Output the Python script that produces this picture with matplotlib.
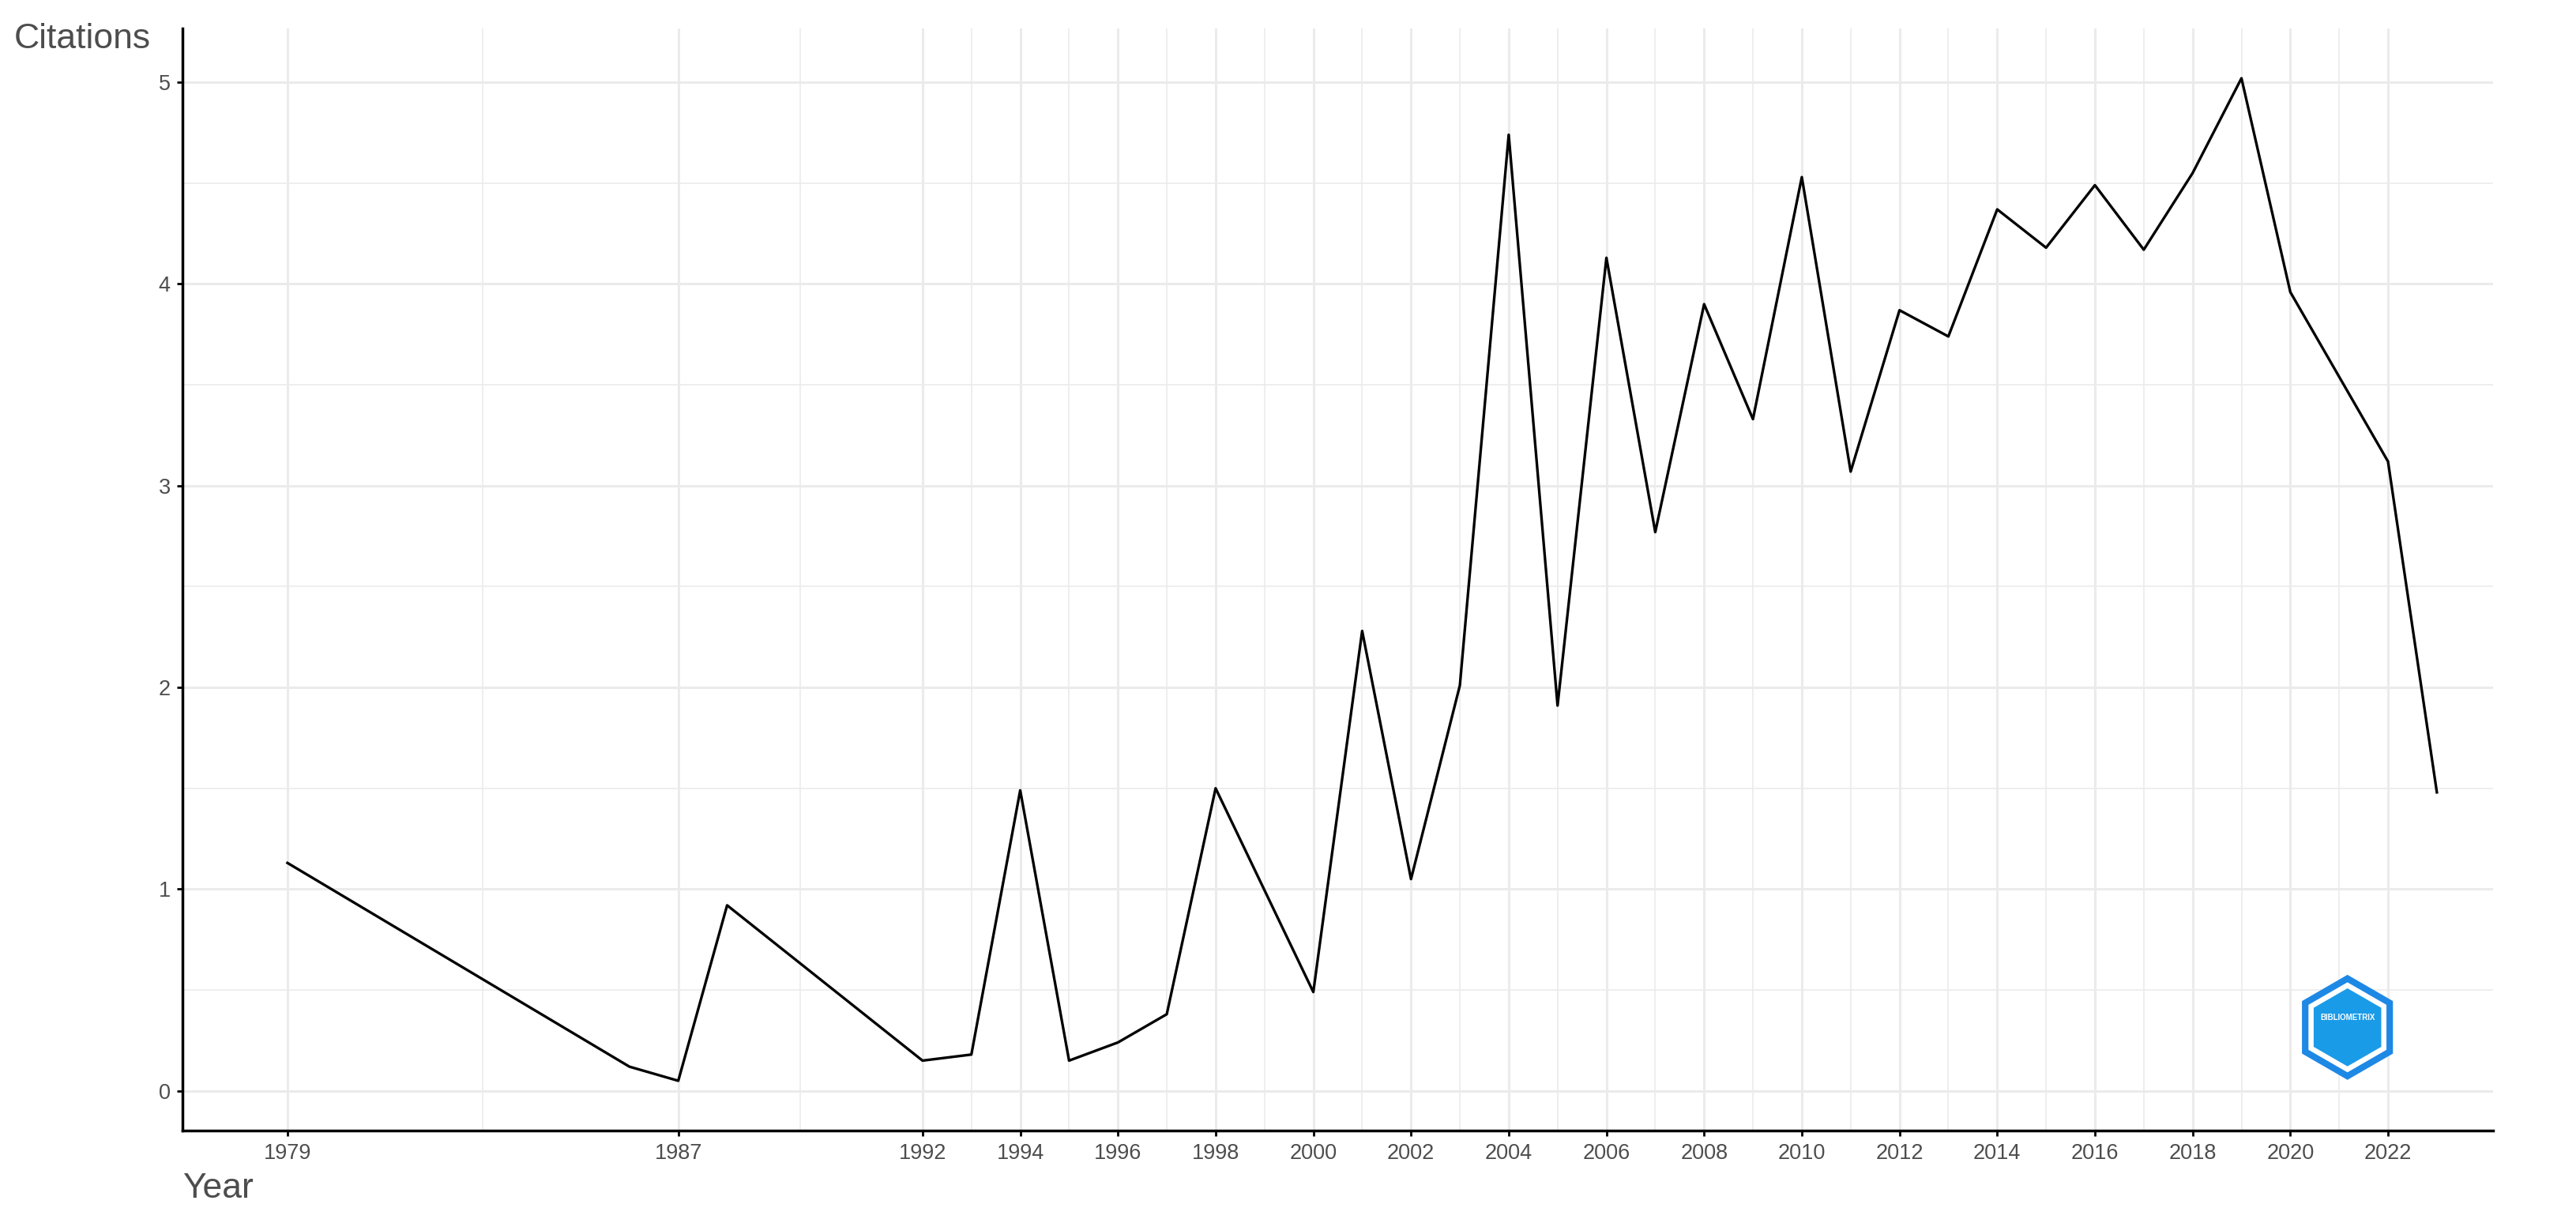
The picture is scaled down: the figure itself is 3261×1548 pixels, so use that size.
import matplotlib.pyplot as plt
import numpy as np
from matplotlib.patches import RegularPolygon

years = [1979, 1986, 1987, 1988, 1992, 1993, 1994, 1995, 1996, 1997, 1998,
         2000, 2001, 2002, 2003, 2004, 2005, 2006, 2007, 2008, 2009, 2010,
         2011, 2012, 2013, 2014, 2015, 2016, 2017, 2018, 2019, 2020, 2021,
         2022, 2023]
citations = [1.13, 0.12, 0.05, 0.92, 0.15, 0.18, 1.49, 0.15, 0.24, 0.38, 1.50,
             0.49, 2.28, 1.05, 2.01, 4.74, 1.91, 4.13, 2.77, 3.90, 3.33, 4.53,
             3.07, 3.87, 3.74, 4.37, 4.18, 4.49, 4.17, 4.55, 5.02, 3.96, 3.54,
             3.12, 1.48]
year_breaks = [1979, 1987, 1992, 1994, 1996, 1998, 2000, 2002, 2004, 2006,
               2008, 2010, 2012, 2014, 2016, 2018, 2020, 2022]
y_breaks = [0, 1, 2, 3, 4, 5]

plt.rcParams['font.family'] = ['Liberation Sans', 'DejaVu Sans']

fig = plt.figure(figsize=(32.62, 15.48), dpi=100)
ax = fig.add_axes([0.0708, 0.0753, 0.8967, 0.9017])

grid_col = '#EBEBEB'
# minor gridlines at midpoints between breaks
x_minor = [(a + b) / 2 for a, b in zip(year_breaks[:-1], year_breaks[1:])]
y_minor = [v + 0.5 for v in y_breaks[:-1]]
for x in x_minor:
    ax.axvline(x, color=grid_col, lw=1.2, zorder=0)
for x in year_breaks:
    ax.axvline(x, color=grid_col, lw=2.2, zorder=0)
for y in y_minor:
    ax.axhline(y, color=grid_col, lw=1.2, zorder=0)
for y in y_breaks:
    ax.axhline(y, color=grid_col, lw=2.2, zorder=0)

ax.plot(years, citations, color='black', lw=2.4, zorder=3)

# x scale follows the break range (1979-2022) with 5% expansion
span = max(year_breaks) - min(year_breaks)
ax.set_xlim(min(year_breaks) - 0.05 * span, max(year_breaks) + 0.05 * span)
yr = max(citations) - min(citations)
ax.set_ylim(min(citations) - 0.05 * yr, max(citations) + 0.05 * yr)

ax.set_xticks(year_breaks)
ax.set_xticklabels([str(y) for y in year_breaks])
ax.set_yticks(y_breaks)
ax.tick_params(axis='both', colors='black', labelcolor='#4D4D4D',
               labelsize=19.5, length=5, width=2)
ax.tick_params(axis='x', pad=6)
ax.tick_params(axis='y', pad=6)

for side in ['top', 'right']:
    ax.spines[side].set_visible(False)
for side in ['left', 'bottom']:
    ax.spines[side].set_linewidth(2.5)
    ax.spines[side].set_color('black')

fig.text(0.0055, 0.968, 'Citations', fontsize=32, color='#4D4D4D',
         ha='left', va='center')
fig.text(0.0708, 0.028, 'Year', fontsize=32, color='#4D4D4D',
         ha='left', va='center')

# bibliometrix logo (decoration)
lax = fig.add_axes([0.891, 0.115, 0.04, 0.09])
lax.set_xlim(-1, 1)
lax.set_ylim(-1.1, 1.1)
lax.set_aspect('equal')
lax.axis('off')
lax.add_patch(RegularPolygon((0, 0), 6, radius=1.05, orientation=0,
                             facecolor='#1E88E5', edgecolor='none'))
lax.add_patch(RegularPolygon((0, 0), 6, radius=0.9, orientation=0,
                             facecolor='white', edgecolor='none'))
lax.add_patch(RegularPolygon((0, 0), 6, radius=0.78, orientation=0,
                             facecolor='#1A9BE8', edgecolor='none'))
lax.text(0, 0.2, 'BIBLIOMETRIX', fontsize=7, color='white', ha='center',
         va='center', fontweight='bold')

fig.savefig('out.png', dpi=100)
